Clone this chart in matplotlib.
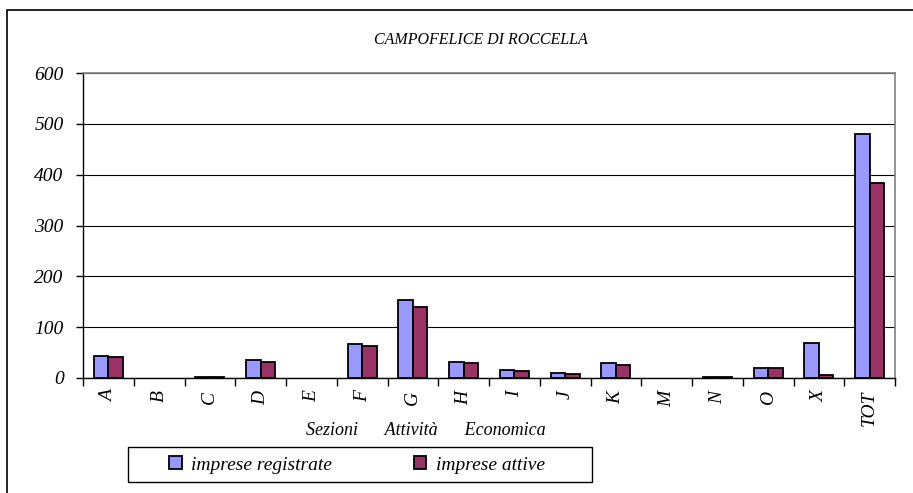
import matplotlib
matplotlib.use("Agg")
import matplotlib.pyplot as plt
import numpy as np
from matplotlib.patches import Rectangle

categories = ["A", "B", "C", "D", "E", "F", "G", "H", "I", "J", "K", "M", "N", "O", "X", "TOT"]
registrate = [43, 0, 2, 35, 0, 67, 153, 32, 15, 9, 30, 0, 2, 20, 69, 480]
attive = [42, 0, 1, 32, 0, 63, 140, 30, 13, 8, 25, 0, 1, 20, 6, 384]
yticks = [0, 100, 200, 300, 400, 500, 600]
title = "CAMPOFELICE DI ROCCELLA"
xlabel = "Sezioni      Attività      Economica"
series_names = ["imprese registrate", "imprese attive"]

plt.rcParams['font.family'] = ['Liberation Serif', 'DejaVu Serif']
plt.rcParams['font.style'] = 'italic'

W, H = 913, 493
fig = plt.figure(figsize=(W / 100, H / 100), dpi=100)
L, R, T, B = 83, 895, 73, 378
ax = fig.add_axes([L / W, 1 - B / H, (R - L) / W, (B - T) / H])

x = np.arange(len(categories))
bw = 0.285
c1, c2 = "#9999FF", "#993366"
e1 = ["black" if v > 0 else "none" for v in registrate]
e2 = ["black" if v > 0 else "none" for v in attive]
ax.bar(x - bw / 2, registrate, bw, color=c1, edgecolor=e1, linewidth=1.3, zorder=3, label=series_names[0])
ax.bar(x + bw / 2, attive, bw, color=c2, edgecolor=e2, linewidth=1.3, zorder=3, label=series_names[1])

ax.set_xlim(-0.5, len(categories) - 0.5)
ax.set_ylim(0, 600)
ax.set_yticks(yticks)
ax.set_yticklabels([str(v) for v in yticks], fontsize=14, fontstyle='italic')
ax.yaxis.grid(True, color="black", linewidth=0.8, zorder=0)
ax.set_axisbelow(True)

ax.set_xticks(np.arange(len(categories) + 1) - 0.5)
ax.set_xticklabels([])
ax.set_xticks(x, minor=True)
ax.set_xticklabels(categories, minor=True, rotation=90, fontsize=14, fontstyle='italic')
ax.tick_params(axis='x', which='minor', length=0, pad=9)
ax.tick_params(axis='x', which='major', length=6, width=1, direction='out')
ax.tick_params(axis='y', length=5, width=1, direction='out', pad=9)

for s in ['top', 'right']:
    ax.spines[s].set_color('#808080')
    ax.spines[s].set_linewidth(1.2)
ax.spines['left'].set_color('black')
ax.spines['bottom'].set_color('black')
ax.spines['left'].set_linewidth(1)
ax.spines['bottom'].set_linewidth(1)

ax.set_xlabel(xlabel, fontsize=13, fontstyle='italic', labelpad=2)
ax.xaxis.set_label_coords((426 - L) / (R - L), -(422 - B) / (B - T))

fig.text(481 / W, 1 - 40 / H, title, ha='center', va='center', fontsize=11.5, fontstyle='italic')

# outer chart frame
fig.patches.append(Rectangle((7 / W, -0.05), 1.1, 1 - 10 / H + 0.05, transform=fig.transFigure,
                             fill=False, edgecolor='black', linewidth=1.2))

# legend frame
fig.patches.append(Rectangle((128 / W, 1 - 482 / H), (592 - 128) / W, (482 - 447) / H,
                             transform=fig.transFigure, fill=False, edgecolor='black', linewidth=1.0))
leg = fig.legend(loc='center', bbox_to_anchor=(357 / W, 1 - 465 / H), ncol=2, fontsize=14,
                 frameon=False, handlelength=0.65, handleheight=0.65,
                 columnspacing=4.2, handletextpad=0.5, borderpad=0.2, borderaxespad=0)
for t in leg.get_texts():
    t.set_fontstyle('italic')

fig.savefig("out.png", dpi=100)
